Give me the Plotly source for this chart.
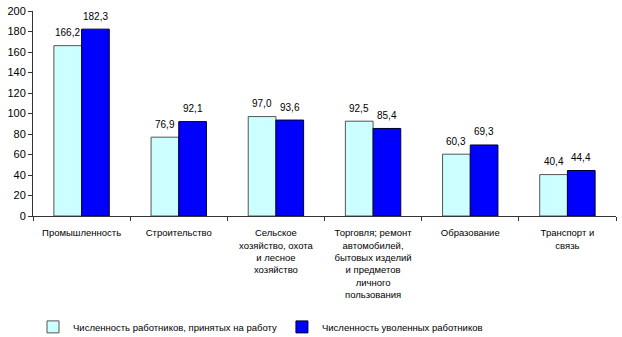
import plotly.graph_objects as go

categories = [
    "Промышленность",
    "Строительство",
    "Сельское<br>хозяйство, охота<br>и лесное<br>хозяйство",
    "Торговля; ремонт<br>автомобилей,<br>бытовых изделий<br>и предметов<br>личного<br>пользования",
    "Образование",
    "Транспорт и<br>связь",
]
hired = [166.2, 76.9, 97.0, 92.5, 60.3, 40.4]
fired = [182.3, 92.1, 93.6, 85.4, 69.3, 44.4]
series_names = ["Численность работников, принятых на работу", "Численность уволенных работников"]

font = "Liberation Sans, Arial, sans-serif"
fig = go.Figure()
fig.add_bar(x=categories, y=hired, name=series_names[0],
            marker=dict(color="#CCFFFF", line=dict(color="#555555", width=1)))
fig.add_bar(x=categories, y=fired, name=series_names[1],
            marker=dict(color="#0000FF", line=dict(color="#000033", width=1)))

# value labels above the bars
bar_px = 97 * (1 - 0.43) / 2
for series, shift in ((hired, -bar_px / 2), (fired, bar_px / 2)):
    for cat, val in zip(categories, series):
        fig.add_annotation(x=cat, y=val, text=f"{val:.1f}".replace(".", ","),
                           showarrow=False, xshift=shift, yshift=13,
                           font=dict(size=10, color="black"))

fig.update_layout(
    width=622, height=337,
    margin=dict(l=33, r=6, t=11, b=121, autoexpand=False),
    paper_bgcolor="white", plot_bgcolor="white",
    separators=", ",
    barmode="group", bargap=0.43, bargroupgap=0,
    font=dict(family=font, size=10, color="black"),
    showlegend=True,
    legend=dict(orientation="h", x=0.0, xanchor="left", yref="container", y=0.03,
                yanchor="middle", font=dict(size=9.5), itemwidth=30, traceorder="normal",
                tracegroupgap=0),
)
fig.update_xaxes(showline=True, linecolor="#333333", linewidth=1, automargin=False,
                 ticks="outside", tickson="boundaries", ticklen=4, tickcolor="#333333",
                 tickfont=dict(size=9.5), tickangle=0, showgrid=False, ticklabelstandoff=8)
fig.update_yaxes(range=[0, 200], dtick=20, showline=True, linecolor="#333333", linewidth=1,
                 automargin=False,
                 ticks="outside", ticklen=4, tickcolor="#333333", showgrid=False,
                 zeroline=False, tickfont=dict(size=11))

fig.write_html("out.html")
